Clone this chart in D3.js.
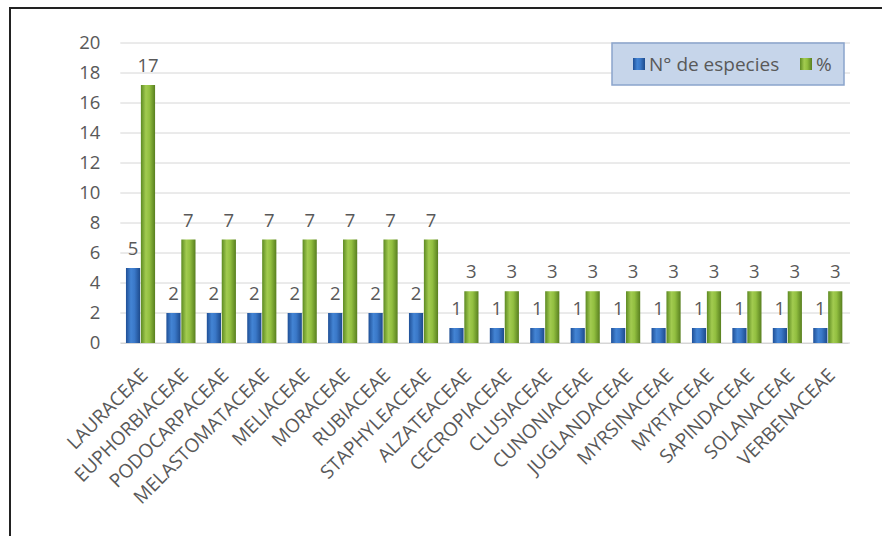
<!DOCTYPE html>
<html><head><meta charset="utf-8">
<script src="https://cdn.jsdelivr.net/npm/d3@7"></script>
<style>
body{margin:0;background:#fff;}
svg{display:block;}
text{font-family:"Open Sans",sans-serif;fill:#595959;}
</style></head>
<body><svg id="c" width="882" height="536"></svg>
<script>
const categories = ["LAURACEAE","EUPHORBIACEAE","PODOCARPACEAE","MELASTOMATACEAE","MELIACEAE","MORACEAE","RUBIACEAE","STAPHYLEACEAE","ALZATEACEAE","CECROPIACEAE","CLUSIACEAE","CUNONIACEAE","JUGLANDACEAE","MYRSINACEAE","MYRTACEAE","SAPINDACEAE","SOLANACEAE","VERBENACEAE"];
const especies = [5,2,2,2,2,2,2,2,1,1,1,1,1,1,1,1,1,1];
const porcentaje = [17.2,6.9,6.9,6.9,6.9,6.9,6.9,6.9,3.45,3.45,3.45,3.45,3.45,3.45,3.45,3.45,3.45,3.45];
const seriesNames = ["N° de especies","%"];
const yTicks = [0,2,4,6,8,10,12,14,16,18,20];

(function(){
const svg = d3.select("#c");
const defs = svg.append("defs");
function grad(id, stops){
  const g = defs.append("linearGradient").attr("id",id).attr("x1","0").attr("x2","1").attr("y1","0").attr("y2","0");
  stops.forEach(s=>g.append("stop").attr("offset",s[0]).attr("stop-color",s[1]));
}
grad("gb",[[0,"#1f4f96"],[0.35,"#4384d4"],[0.6,"#3a78c8"],[1,"#1d4a8c"]]);
grad("gg",[[0,"#5d8a22"],[0.35,"#a2cb50"],[0.6,"#92bf40"],[1,"#587f1f"]]);

// frame
svg.append("rect").attr("x",10).attr("y",8).attr("width",900).attr("height",600)
  .attr("fill","none").attr("stroke","#222").attr("stroke-width",2);

const pL=120.3, pR=848, pT=43, pB=343;
const x = d3.scaleBand().domain(categories).range([pL,pR]).paddingInner(0.28).paddingOuter(0.14);
const x1 = d3.scaleBand().domain(seriesNames).range([0,x.bandwidth()]).paddingInner(0.05);
const y = d3.scaleLinear().domain([0,20]).range([pB,pT]);

// gridlines
svg.append("g").selectAll("line").data(yTicks).join("line")
  .attr("x1",pL).attr("x2",pR+2).attr("y1",d=>y(d)).attr("y2",d=>y(d))
  .attr("stroke","#d6d6d6").attr("stroke-width",1);

// y axis
const yAxis = svg.append("g").attr("transform",`translate(${pL},0)`)
  .call(d3.axisLeft(y).tickValues(yTicks).tickSize(0).tickPadding(20));
yAxis.select(".domain").remove();
yAxis.selectAll("text").style("font-size","18.5px").attr("fill","#595959").attr("font-family","Open Sans");

const series = [
  {name:seriesNames[0], values:especies, fill:"url(#gb)"},
  {name:seriesNames[1], values:porcentaje, fill:"url(#gg)"}
];
const fmt = d3.format(".0f");
series.forEach(s=>{
  const g = svg.append("g");
  g.selectAll("rect").data(categories).join("rect")
    .attr("x",(c)=>x(c)+x1(s.name)).attr("width",x1.bandwidth())
    .attr("y",(c,i)=>y(s.values[i])).attr("height",(c,i)=>y(0)-y(s.values[i]))
    .attr("fill",s.fill);
  g.selectAll("text").data(categories).join("text")
    .attr("x",(c)=>x(c)+x1(s.name)+x1.bandwidth()/2)
    .attr("y",(c,i)=>y(s.values[i])-13)
    .attr("text-anchor","middle").style("font-size","18.5px").attr("fill","#404040")
    .text((c,i)=>fmt(s.values[i]));
});

// x axis labels
const xAxis = svg.append("g").attr("transform",`translate(0,${pB})`)
  .call(d3.axisBottom(x).tickSize(0).tickPadding(0));
xAxis.select(".domain").attr("stroke","#d6d6d6");
xAxis.selectAll("text")
  .attr("text-anchor","end").style("font-size","19px").attr("fill","#595959").attr("font-family","Open Sans")
  .attr("transform","translate(-1,24) rotate(-45)").attr("dy","0.7em");

// legend
const lg = svg.append("g");
lg.append("rect").attr("x",612).attr("y",43).attr("width",232).attr("height",42)
  .attr("fill","#c6d5ea").attr("stroke","#8aa4cc").attr("stroke-width",1.5);
const items=[{name:seriesNames[0],fill:"url(#gb)",x:633},{name:seriesNames[1],fill:"url(#gg)",x:800}];
items.forEach(it=>{
  lg.append("rect").attr("x",it.x).attr("y",58).attr("width",12).attr("height",12).attr("fill",it.fill);
  lg.append("text").attr("x",it.x+16).attr("y",71).style("font-size","19px").attr("fill","#404040").text(it.name);
});
})();
</script></body></html>
